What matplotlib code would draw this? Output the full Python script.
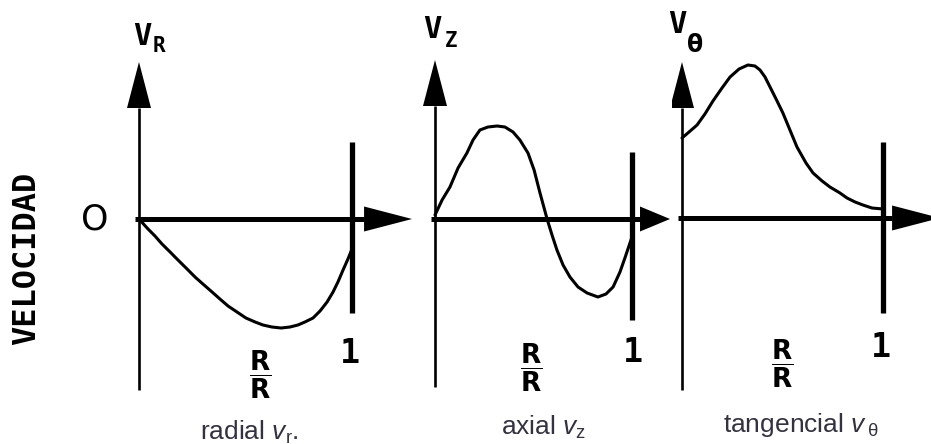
import matplotlib
matplotlib.use("Agg")
import matplotlib.pyplot as plt

plt.rcParams["mathtext.fontset"] = "custom"
plt.rcParams["mathtext.rm"] = "Liberation Sans"
plt.rcParams["mathtext.it"] = "Liberation Sans:italic"
plt.rcParams["mathtext.bf"] = "DejaVu Sans:bold"

# velocity profiles against r/R (0 = axis, 1 = wall)
r_radial = [0, .038, .075, .108, .146, .183, .221, .263, .30, .343, .38, .418, .46, .502, .545,
            .582, .624, .667, .709, .746, .779, .817, .85, .883, .911, .934, .958, .981, 1.0]
v_radial = [0, -.09, -.17, -.25, -.33, -.41, -.49, -.58, -.65, -.73, -.80, -.87, -.93, -.99, -1.03,
            -1.06, -1.08, -1.09, -1.08, -1.06, -1.03, -.99, -.92, -.83, -.73, -.63, -.51, -.40, -.30]

r_axial = [0, .036, .076, .117, .162, .193, .228, .269, .315, .355, .396, .431, .472, .503, .533,
           .569, .594, .619, .650, .685, .726, .772, .827, .868, .904, .939, .964, 1.0]
v_axial = [.04, .19, .32, .51, .66, .79, .89, .92, .93, .92, .87, .79, .66, .49, .26,
           0, -.16, -.31, -.46, -.58, -.68, -.74, -.78, -.75, -.68, -.53, -.39, -.18]

r_tang = [0, .035, .075, .114, .154, .199, .239, .284, .328, .363, .388, .413, .438, .468, .502,
          .537, .572, .617, .652, .697, .736, .786, .821, .861, .90, .945, 1.0]
v_tang = [.80, .86, .93, 1.04, 1.17, 1.30, 1.41, 1.49, 1.53, 1.52, 1.48, 1.41, 1.31, 1.19, 1.05,
          .88, .71, .55, .45, .37, .31, .25, .20, .16, .13, .10, .09]

symbols = ["R", "Z", "θ"]
captions = [r"radial $v_{\mathrm{r}}$.", r"axial $v_{\mathrm{z}}$", r"tangencial $v\,_{\mathrm{θ}}$"]

W, H = 931, 444
PX = 0.01  # velocity units per pixel
fig = plt.figure(figsize=(W / 100, H / 100), dpi=100)

# pixel frame of each panel: origin, r=1 wall, panel strip
panels = [
    dict(x0=139, x1=352, y0=219, left=0, right=418, r_tip=1.282, head=48,
         v_top=1.57, v_bot=-1.71, wall=(0.77, -0.94),
         v_off=(-6, 17), s_off=(14, 10), one_off=(-2, -50),
         frac=(0.57, -1.56), cap=(0.52, -2.13)),
    dict(x0=435, x1=632, y0=219, left=418, right=672, r_tip=1.193, head=30,
         v_top=1.59, v_bot=-1.68, wall=(0.67, -1.01),
         v_off=(-12, 22), s_off=(10, 13), one_off=(1, -42),
         frac=(0.49, -1.49), cap=(0.55, -2.08)),
    dict(x0=682, x1=883, y0=218, left=672, right=931, r_tip=1.284, head=48,
         v_top=1.56, v_bot=-1.72, wall=(0.76, -0.95),
         v_off=(-14, 29), s_off=(5, 10), one_off=(-2, -44),
         frac=(0.50, -1.46), cap=(0.59, -2.07)),
]
curves = [(r_radial, v_radial), (r_axial, v_axial), (r_tang, v_tang)]

mono = dict(family="DejaVu Sans Mono", weight="bold", color="black")

for i, p in enumerate(panels):
    ax = fig.add_axes([p["left"] / W, 0, (p["right"] - p["left"]) / W, 1])
    span = p["x1"] - p["x0"]
    ax.set_xlim((p["left"] - p["x0"]) / span, (p["right"] - p["x0"]) / span)
    ax.set_ylim((p["y0"] - H) * PX, p["y0"] * PX)
    ax.axis("off")

    # velocity axis with arrowhead (46 px long, 24 px wide)
    v_base = p["v_top"] - 46 * PX
    ax.plot([0, 0], [p["v_bot"], v_base], color="black", lw=1.9, solid_capstyle="butt")
    ax.fill([-12 / span, 0, 12 / span], [v_base, p["v_top"], v_base], color="black", lw=0)

    # r/R axis with arrowhead
    r_base = p["r_tip"] - p["head"] / span
    ax.plot([-4 / span, r_base], [0, 0], color="black", lw=3.6, solid_capstyle="butt")
    ax.fill([r_base, p["r_tip"], r_base], [-12.5 * PX, 0, 12.5 * PX], color="black", lw=0)

    # wall at r/R = 1
    ax.plot([1, 1], list(p["wall"]), color="black", lw=3.8, solid_capstyle="butt")

    r, v = curves[i]
    ax.plot(r, v, color="black", lw=2.2, solid_joinstyle="round", solid_capstyle="round")

    ax.annotate("V", xy=(0, p["v_top"]), xytext=p["v_off"], textcoords="offset pixels",
                ha="left", va="baseline", fontsize=22, **mono)
    if symbols[i] == "θ":
        ax.annotate("θ", xy=(0, p["v_top"]), xytext=p["s_off"], textcoords="offset pixels",
                    ha="left", va="baseline", fontsize=17, family="DejaVu Sans",
                    weight="bold", color="black")
    else:
        ax.annotate(symbols[i], xy=(0, p["v_top"]), xytext=p["s_off"], textcoords="offset pixels",
                    ha="left", va="baseline", fontsize=15, **mono)
    ax.annotate("1", xy=(1, p["wall"][1]), xytext=p["one_off"], textcoords="offset pixels",
                ha="center", va="baseline", fontsize=24, **mono)
    ax.text(*p["frac"], r"$\dfrac{\mathbf{R}}{\mathbf{R}}$", ha="center", va="center",
            fontsize=19, color="black")
    ax.text(*p["cap"], captions[i], ha="center", va="center", fontsize=19,
            family="Liberation Sans", color="#333340")

    if i == 0:
        ax.annotate("O", xy=(0, 0), xytext=(-44, 0), textcoords="offset pixels",
                    ha="center", va="center", fontsize=25, family="DejaVu Sans",
                    color="black")
        ax.annotate("VELOCIDAD", xy=(0, 0), xytext=(-112, -39), textcoords="offset pixels",
                    ha="center", va="center", rotation=90, fontsize=23, **mono)

fig.savefig("out.png", dpi=100)
